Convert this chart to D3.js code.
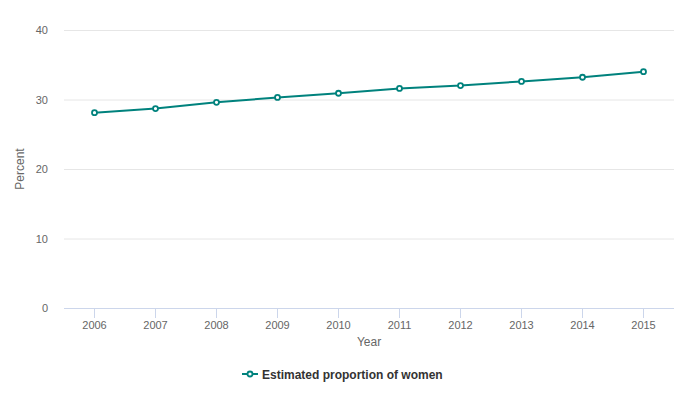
<!DOCTYPE html>
<html>

<head>
  <meta charset="UTF-8">
  <script src="https://d3js.org/d3.v7.js"></script>
  <style>
    body { margin: 0; background: #fff; }
    text { font-family: "Liberation Sans", Arial, Helvetica, sans-serif; }
  </style>
</head>

<body>
  <div id="chart"></div>

  <script>
    // data

    const years = ["2006", "2007", "2008", "2009", "2010", "2011", "2012", "2013", "2014", "2015"];
    const women = [28.1, 28.7, 29.6, 30.3, 30.9, 31.6, 32.0, 32.6, 33.2, 34.0];
    const yTicks = [0, 10, 20, 30, 40];
    const seriesName = "Estimated proportion of women";

    // set up

    const W = 684, H = 400;
    const margin = { top: 30, right: 10, bottom: 92, left: 64 };
    const width = W - margin.left - margin.right;
    const height = H - margin.top - margin.bottom;
    const teal = "#00827d";

    const svg = d3.select('#chart')
      .append('svg')
        .attr('width', W)
        .attr('height', H);

    const g = svg.append('g')
        .attr('transform', `translate(${margin.left},${margin.top})`);

    // scales

    const x = d3.scaleBand()
        .domain(years)
        .range([0, width]);

    const y = d3.scaleLinear()
        .domain([0, 40])
        .range([height, 0]);

    // grid + y axis

    g.append('g')
        .call(d3.axisLeft(y).tickValues(yTicks).tickSize(-width).tickPadding(16))
        .call(a => a.select('.domain').remove())
        .call(a => a.selectAll('.tick line').attr('stroke', '#e6e6e6'))
        .call(a => a.selectAll('.tick text')
          .attr('fill', '#666').attr('font-size', 11));

    // x axis

    g.append('g')
        .attr('transform', `translate(0,${height})`)
        .call(d3.axisBottom(x).tickSize(10).tickPadding(3))
        .call(a => a.select('.domain').attr('stroke', '#ccd6eb').attr('d', `M0,0.5H${width}`))
        .call(a => a.selectAll('.tick line').attr('stroke', '#ccd6eb'))
        .call(a => a.selectAll('.tick text')
          .attr('fill', '#666').attr('font-size', 11));

    // axis titles

    svg.append('text')
        .attr('transform', `translate(24,${margin.top + height / 2}) rotate(-90)`)
        .attr('text-anchor', 'middle')
        .attr('fill', '#666')
        .attr('font-size', 12)
        .text('Percent');

    svg.append('text')
        .attr('x', margin.left + width / 2)
        .attr('y', 346)
        .attr('text-anchor', 'middle')
        .attr('fill', '#666')
        .attr('font-size', 12)
        .text('Year');

    // line

    const pts = years.map((d, i) => ({ year: d, value: women[i] }));
    const cx = d => x(d.year) + x.bandwidth() / 2;

    g.append('path')
        .datum(pts)
        .attr('fill', 'none')
        .attr('stroke', teal)
        .attr('stroke-width', 2)
        .attr('d', d3.line().x(cx).y(d => y(d.value)));

    g.selectAll('circle')
      .data(pts)
      .join('circle')
        .attr('cx', cx)
        .attr('cy', d => y(d.value))
        .attr('r', 2.5)
        .attr('fill', '#fff')
        .attr('stroke', teal)
        .attr('stroke-width', 1.8);

    // legend

    const leg = svg.append('g').attr('transform', 'translate(242,374)');
    leg.append('path')
        .attr('d', 'M0,0H16')
        .attr('stroke', teal)
        .attr('stroke-width', 2);
    leg.append('circle')
        .attr('cx', 8).attr('cy', 0).attr('r', 2.5)
        .attr('fill', '#fff').attr('stroke', teal).attr('stroke-width', 1.8);
    leg.append('text')
        .attr('x', 20)
        .attr('y', 4.5)
        .attr('fill', '#333')
        .attr('font-size', 12)
        .attr('font-weight', 'bold')
        .text(seriesName);
  </script>
</body>

</html>
